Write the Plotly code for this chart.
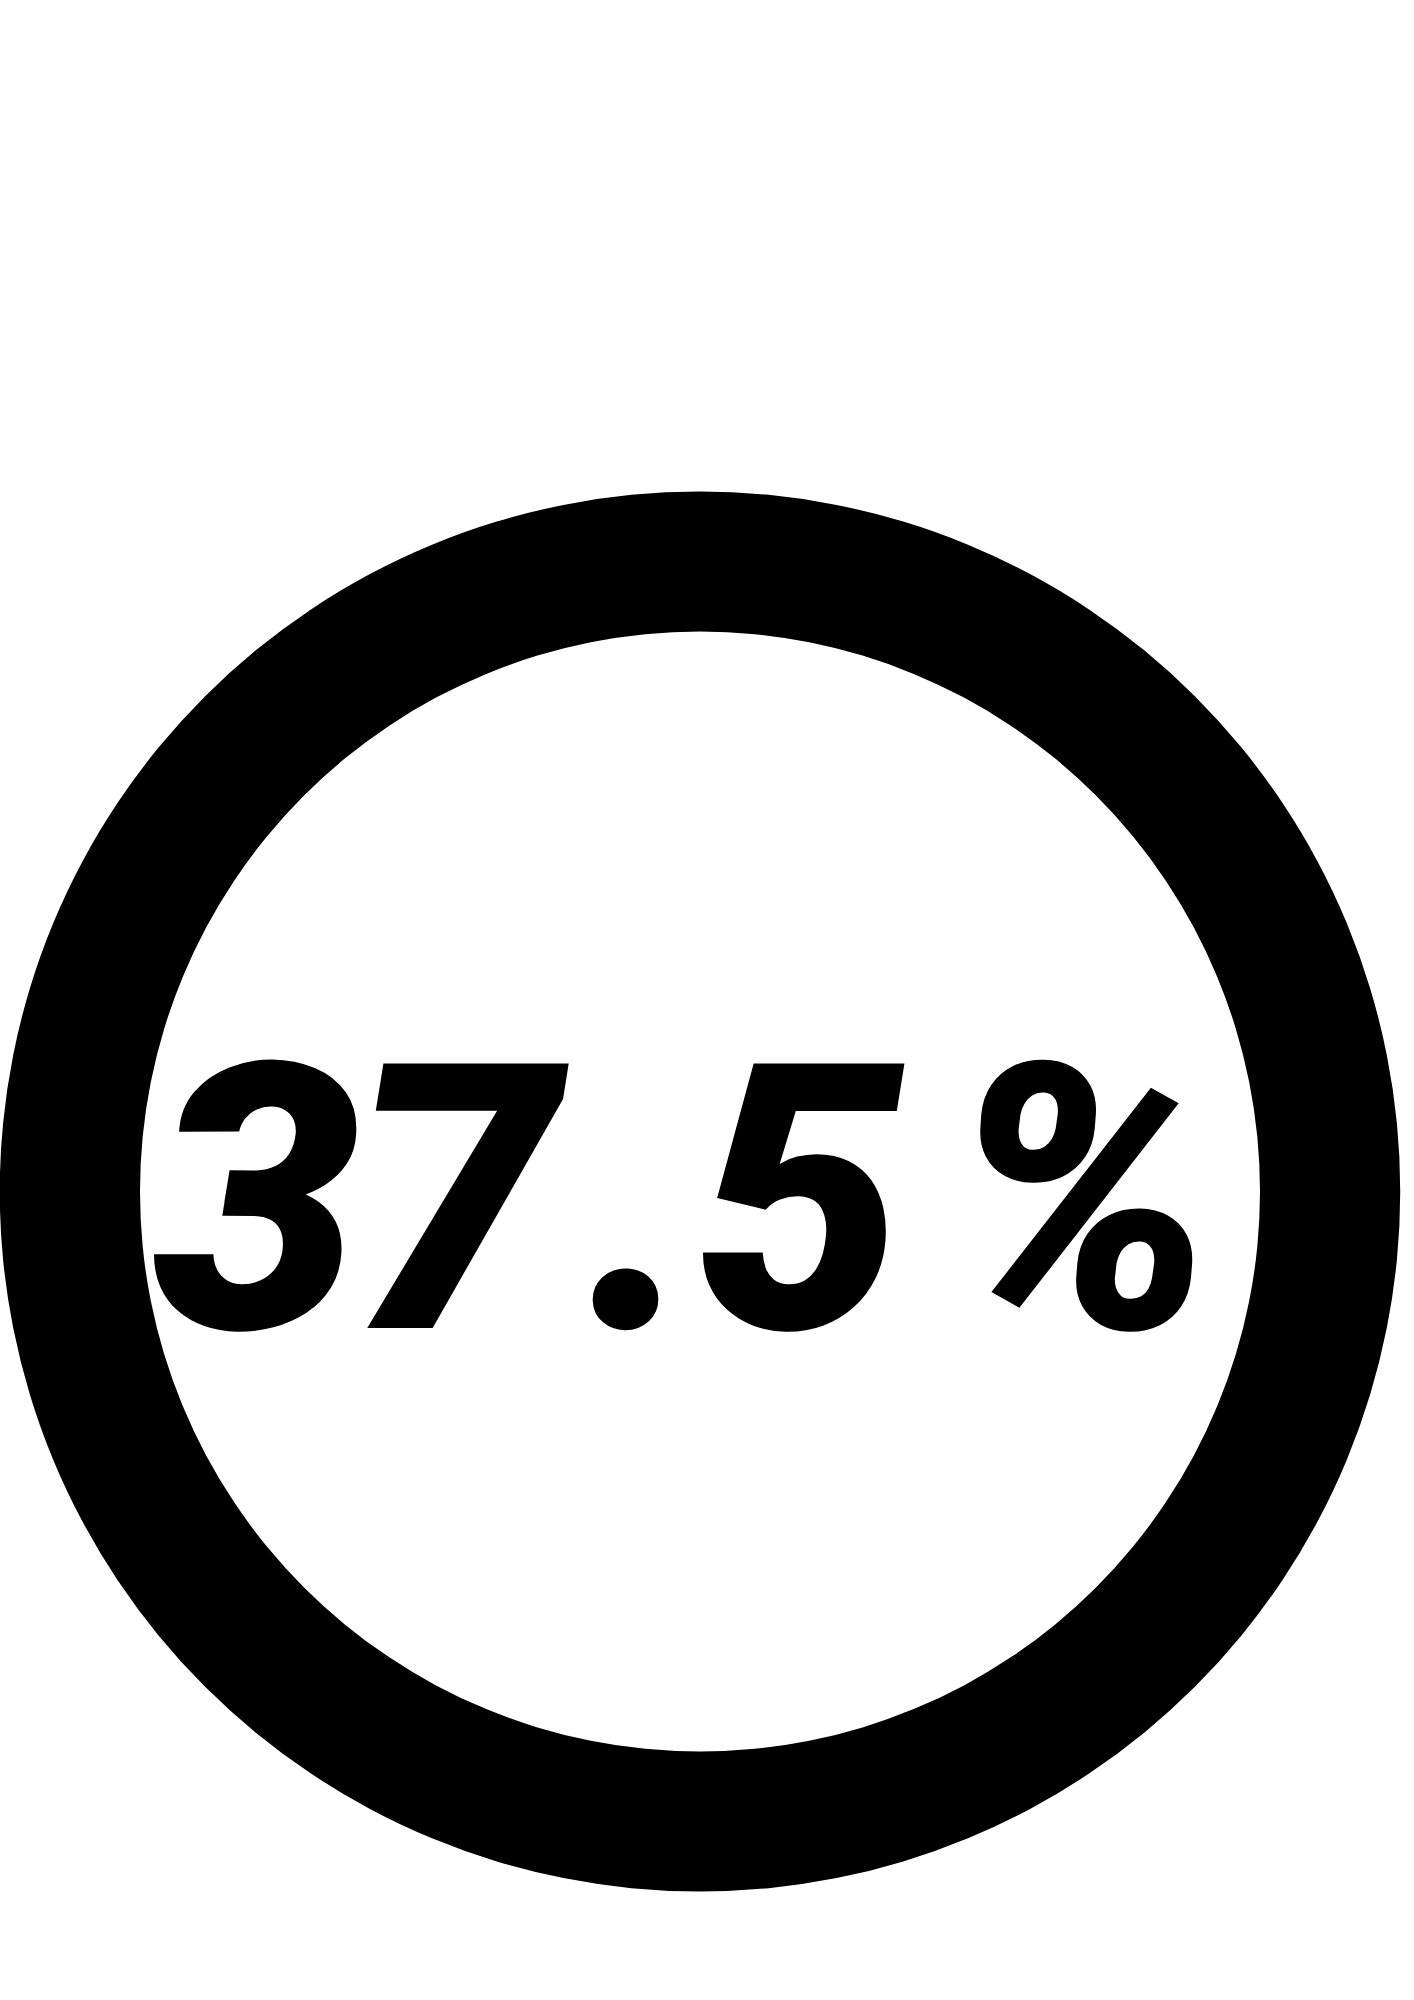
import plotly.graph_objects as go

# Data
value = 37.5
label_text = f"{value:g}%"
ring_values = [100]
ring_labels = ["total"]

W, H = 1414, 2000

fig = go.Figure()
fig.add_trace(go.Pie(
    values=ring_values,
    labels=ring_labels,
    hole=0.80,
    marker=dict(colors=["#000000"], line=dict(width=0)),
    textinfo="none",
    hoverinfo="skip",
    sort=False,
    showlegend=False,
    domain=dict(x=[0, 1400 / W], y=[(2000 - 1891.5) / H, (2000 - 491.5) / H]),
))

# wide letter spacing: place each glyph of the label separately
char_centers_px = [256, 460, 640, 802, 1082]
for ch, cx in zip(label_text, char_centers_px):
    fig.add_annotation(
        text=ch,
        x=cx / W, y=(2000 - 1201) / H,
        xref="paper", yref="paper",
        xanchor="center", yanchor="middle",
        showarrow=False,
        font=dict(family="Roboto", size=372, color="#000000", weight=900, style="italic"),
    )

fig.update_layout(
    width=W, height=H,
    margin=dict(l=0, r=0, t=0, b=0),
    paper_bgcolor="#ffffff",
    plot_bgcolor="#ffffff",
)

fig.write_html("out.html")
